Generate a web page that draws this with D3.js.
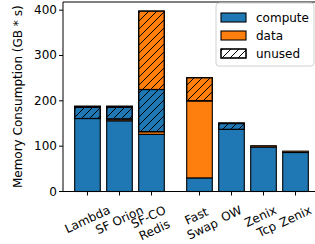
<!DOCTYPE html>
<html>
<head>
<meta charset="utf-8">
<script src="https://cdn.jsdelivr.net/npm/d3@7"></script>
<style>
  body { margin: 0; background: #fff; }
  svg { display: block; font-family: "DejaVu Sans", sans-serif; }
</style>
</head>
<body>
<svg width="315" height="244"></svg>
<script>
// data
const categories = ['Lambda', 'SF Orion', 'SF-CO\nRedis', 'Fast\nSwap', 'OW', 'Zenix\nTcp', 'Zenix'];
const positions = [0, 1, 2, 3.5, 4.5, 5.5, 6.5];
const compute = [161, 156, 126, 30, 137, 98, 86];
const data = [0, 4, 6, 170, 0, 3, 3];
const computeUnused = [25, 26, 93, 0, 13, 0, 0];
const dataUnused = [2, 2, 173, 51, 1, 0, 0];
const yTicks = [0, 100, 200, 300, 400];
const legendLabels = ['compute', 'data', 'unused'];

let svg = d3.select('svg'),
  mLeft = 63, mRight = 320, mTop = 2, mBottom = 191.5;

let x = d3.scaleLinear().domain([-0.765, 7.265]).range([mLeft, mRight]);
let y = d3.scaleLinear().domain([0, 418]).range([mBottom, mTop]);
let bw = x(0.8) - x(0);
const blue = '#1f77b4', orange = '#ff7f0e';

// hatch pattern
let defs = svg.append('defs');
defs.append('pattern')
  .attr('id', 'hatch')
  .attr('patternUnits', 'userSpaceOnUse')
  .attr('width', 8).attr('height', 8)
  .append('path')
  .attr('d', 'M0,8 L8,0 M-2,2 L2,-2 M6,10 L10,6')
  .attr('stroke', '#000').attr('stroke-width', 1);

// stack segments: [values, color, hatched]
let layers = [
  [compute, blue, false],
  [data, orange, false],
  [computeUnused, blue, true],
  [dataUnused, orange, true]
];

let g = svg.append('g');
positions.forEach(function(p, i) {
  let base = 0;
  layers.forEach(function(l) {
    let v = l[0][i];
    if (v <= 0) return;
    let y0 = y(base), y1 = y(base + v);
    g.append('rect')
      .attr('x', x(p) - bw / 2).attr('y', y1)
      .attr('width', bw).attr('height', y0 - y1)
      .attr('fill', l[1])
      .attr('stroke', '#000').attr('stroke-width', 1.1);
    if (l[2]) {
      g.append('rect')
        .attr('x', x(p) - bw / 2).attr('y', y1)
        .attr('width', bw).attr('height', y0 - y1)
        .attr('fill', 'url(#hatch)')
        .attr('stroke', '#000').attr('stroke-width', 1.1);
    }
    base += v;
  });
});

// spines
svg.append('line').attr('x1', mLeft).attr('x2', mLeft).attr('y1', mTop).attr('y2', mBottom)
  .attr('stroke', '#000').attr('stroke-width', 1);
svg.append('line').attr('x1', mLeft).attr('x2', mRight).attr('y1', mBottom).attr('y2', mBottom)
  .attr('stroke', '#000').attr('stroke-width', 1);
svg.append('line').attr('x1', mLeft).attr('x2', mRight).attr('y1', mTop).attr('y2', mTop)
  .attr('stroke', '#000').attr('stroke-width', 1);

// y axis
yTicks.forEach(function(t) {
  svg.append('line').attr('x1', mLeft - 4).attr('x2', mLeft)
    .attr('y1', y(t)).attr('y2', y(t)).attr('stroke', '#000');
  svg.append('text').attr('x', mLeft - 6).attr('y', y(t))
    .attr('text-anchor', 'end').attr('dominant-baseline', 'central')
    .attr('font-size', 12).text(t);
});
svg.append('text')
  .attr('transform', 'translate(18,' + (mTop + mBottom) / 2 + ') rotate(-90)')
  .attr('text-anchor', 'middle').attr('dominant-baseline', 'central')
  .attr('font-size', 12).text('Memory Consumption (GB * s)');

// x axis
positions.forEach(function(p, i) {
  svg.append('line').attr('x1', x(p)).attr('x2', x(p))
    .attr('y1', mBottom).attr('y2', mBottom + 4).attr('stroke', '#000');
  let lg = svg.append('g');
  let t = lg.append('text').attr('font-size', 12).attr('text-anchor', 'middle')
    .attr('transform', 'rotate(-25)');
  categories[i].split('\n').forEach(function(s, k) {
    t.append('tspan').attr('x', 0).attr('dy', k === 0 ? 0 : '1.2em').text(s);
  });
  let bb = lg.node().getBBox();
  lg.attr('transform', 'translate(' + (x(p) - (bb.x + bb.width / 2)) + ',' + (203 - bb.y) + ')');
});

// legend
let leg = svg.append('g');
leg.append('rect').attr('x', 216).attr('y', 3).attr('width', 98).attr('height', 63)
  .attr('rx', 3).attr('fill', '#fff').attr('fill-opacity', 0.8)
  .attr('stroke', '#d0d0d0');
legendLabels.forEach(function(name, i) {
  let cy = 17.5 + i * 18;
  leg.append('rect').attr('x', 221).attr('y', cy - 4.5).attr('width', 25).attr('height', 9)
    .attr('fill', i === 0 ? blue : i === 1 ? orange : '#fff')
    .attr('stroke', '#000').attr('stroke-width', 1.1);
  if (i === 2) {
    leg.append('rect').attr('x', 221).attr('y', cy - 4.5).attr('width', 25).attr('height', 9)
      .attr('fill', 'url(#hatch)').attr('stroke', '#000').attr('stroke-width', 1.1);
  }
  leg.append('text').attr('x', 256).attr('y', cy)
    .attr('dominant-baseline', 'central').attr('font-size', 12).text(name);
});
</script>
</body>
</html>
